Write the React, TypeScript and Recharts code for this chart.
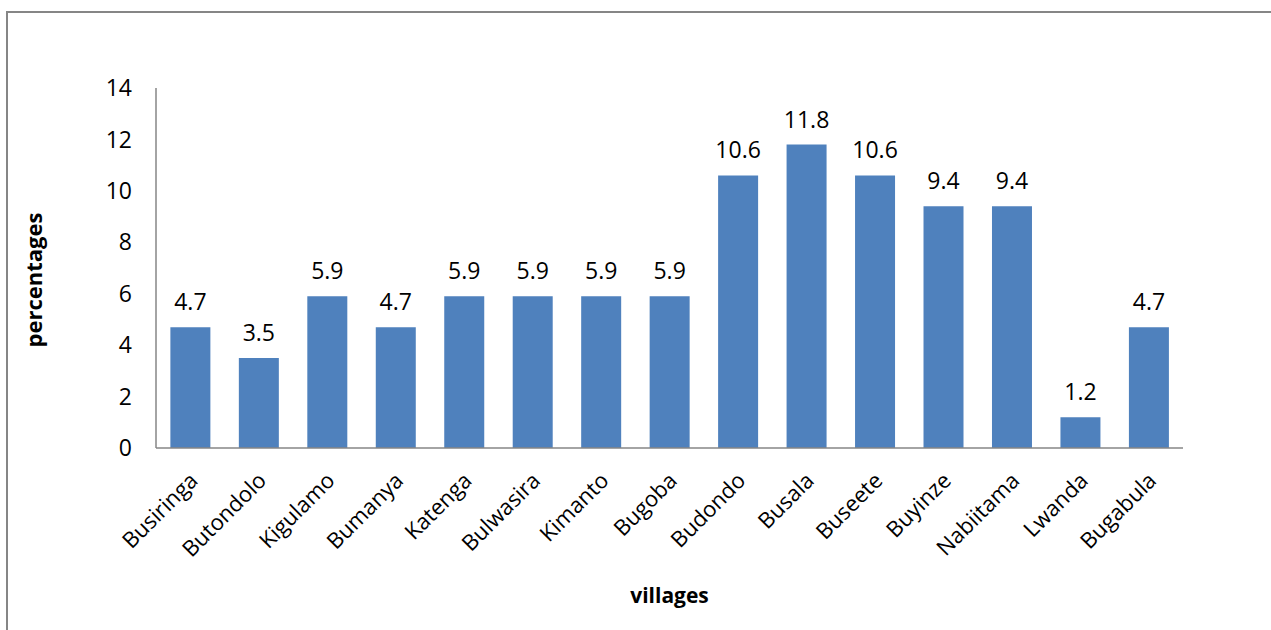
import React from "react";
import { BarChart, Bar, XAxis, YAxis, LabelList, Label } from "recharts";

const villages = [
  "Busiringa", "Butondolo", "Kigulamo", "Bumanya", "Katenga", "Bulwasira", "Kimanto",
  "Bugoba", "Budondo", "Busala", "Buseete", "Buyinze", "Nabiitama", "Lwanda", "Bugabula",
];
const percentages = [4.7, 3.5, 5.9, 4.7, 5.9, 5.9, 5.9, 5.9, 10.6, 11.8, 10.6, 9.4, 9.4, 1.2, 4.7];
const yTicks = [0, 2, 4, 6, 8, 10, 12, 14];

const data = villages.map((v, i) => ({ village: v, value: percentages[i] }));

const FONT = "'Open Sans', Lato, sans-serif";
const AXIS = "#868686";
const FS = 23;

const XTick = (props: any) => {
  const { x, y, payload } = props;
  return (
    <g transform={`translate(${x + 9},${y + 34})`}>
      <text x={0} y={0} transform="rotate(-45)" textAnchor="end" fontFamily={FONT} fontSize={22} fill="#000">
        {payload.value}
      </text>
    </g>
  );
};

export default function App() {
  return (
    <div style={{ position: "fixed", left: 0, top: 0, width: 1271, height: 630, overflow: "hidden", background: "#fff" }}>
      <div
        style={{
          position: "absolute",
          left: 6,
          top: 11,
          width: 1400,
          height: 800,
          borderTop: `2px solid ${AXIS}`,
          borderLeft: `2px solid ${AXIS}`,
          boxSizing: "border-box",
        }}
      />
      <div style={{ position: "absolute", left: 0, top: 0 }}>
        <BarChart
          width={1271}
          height={630}
          data={data}
          margin={{ top: 88, right: 88, bottom: 0, left: 96 }}
          barCategoryGap="21%"
        >
          <XAxis
            dataKey="village"
            height={182}
            interval={0}
            tickLine={false}
            tickSize={0}
            tickMargin={0}
            axisLine={{ stroke: AXIS, strokeWidth: 1.5 }}
            tick={<XTick />}
          >
            <Label
              content={(p: any) => {
                const vb = p.viewBox;
                return (
                  <text
                    x={vb.x + vb.width / 2}
                    y={vb.y + 155}
                    textAnchor="middle"
                    fontFamily={FONT}
                    fontWeight="bold"
                    fontSize={21}
                    fill="#000"
                  >
                    villages
                  </text>
                );
              }}
            />
          </XAxis>
          <YAxis
            width={60}
            domain={[0, 14]}
            ticks={yTicks}
            interval={0}
            tickLine={false}
            tickSize={0}
            tickMargin={24}
            axisLine={{ stroke: AXIS, strokeWidth: 1.5 }}
            tick={{ fontFamily: FONT, fontSize: FS, fill: "#000" }}
          >
            <Label
              content={(p: any) => {
                const vb = p.viewBox;
                const cx = vb.x - 63;
                const cy = vb.y + vb.height / 2 + 12;
                return (
                  <text
                    x={cx}
                    y={cy}
                    transform={`rotate(-90, ${cx}, ${cy})`}
                    textAnchor="middle"
                    dominantBaseline="central"
                    fontFamily={FONT}
                    fontWeight="bold"
                    fontSize={22}
                    fill="#000"
                  >
                    percentages
                  </text>
                );
              }}
            />
          </YAxis>
          <Bar dataKey="value" fill="#4F81BD" isAnimationActive={false}>
            <LabelList
              dataKey="value"
              position="top"
              offset={17}
              fontFamily={FONT}
              fontSize={FS}
              fill="#000"
              formatter={(v: any) => Number(v).toFixed(1)}
            />
          </Bar>
        </BarChart>
      </div>
    </div>
  );
}
